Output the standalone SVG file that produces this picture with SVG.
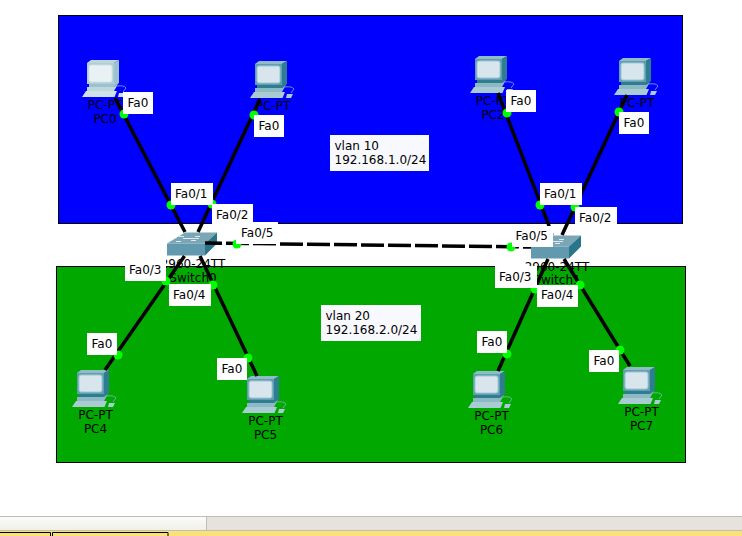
<svg xmlns="http://www.w3.org/2000/svg" xmlns:xlink="http://www.w3.org/1999/xlink" width="742" height="536" viewBox="0 0 742 536">
<style>
text{font-family:"DejaVu Sans",sans-serif;font-size:12px;fill:#000}
.m{text-anchor:middle}
.lnk{stroke:#000;stroke-width:3.500;fill:none}
.dash{stroke-dasharray:23 4;stroke-dashoffset:6}
.dot{fill:#00ff00}
.lb{fill:#fff}
.pc{--top:#8fbcc6;--side:#2f7d90;--front:#5e9fb3;--rim:#9fc7d3;--scr:#d8e5ec;--base:#8cb9c4;--key:#a9cbd3;--cord:#7fb7c0}
.pc.faded{--top:#bdd6dc;--side:#9cc3cc;--front:#aecdd6;--rim:#cfe1e6;--scr:#e9f1f4;--base:#bcd7dd;--key:#cfe2e7;--cord:#8fa8f0}
</style>
<defs>
<symbol id="pcicon" overflow="visible" width="40" height="40" viewBox="0 0 40 40">
<path d="M0 3 4 0H32L27 3Z" fill="var(--top)"/>
<path d="M27 3 32 0V21L27 26Z" fill="var(--side)"/>
<rect x="0" y="3" width="27" height="21" fill="var(--front)"/>
<rect x="2" y="5" width="23" height="17" rx="2" fill="var(--scr)" stroke="var(--rim)"/>
<path d="M2 24H27L32 20V23L27 27H2Z" fill="var(--side)"/>
<path d="M0 27H27L31 24 27 31H0Z" fill="var(--base)"/>
<path d="M-1 31H30L27.500 37H-5Z" fill="var(--key)"/>
<path d="M32 33H38L36 37H31Z" fill="var(--key)"/>
<path d="M30 26Q37 25 39 28L36 32" fill="none" stroke="var(--cord)" stroke-width=".8"/>
</symbol>
<symbol id="swicon" overflow="visible" width="50" height="24" viewBox="0 0 50 24">
<path d="M0 11 18 0H50L38 11Z" fill="#7ba6b6"/>
<path d="M38 11 50 0V11L38 23Z" fill="#2a7589"/>
<rect x="0" y="11" width="38" height="12" fill="#6399ae"/>
<path d="M12 4H17M28 4H33M9 9H14M24 8H29M16 6H32" stroke="#dfecef" stroke-width="1.200"/>
</symbol>
</defs>

<rect width="742" height="536" fill="#fff"/>
<rect id="vlan10" x="58.500" y="15.500" width="624" height="208" fill="#0000ff" stroke="#000"/>
<rect id="vlan20" x="56.500" y="266.500" width="629" height="196" fill="#00a800" stroke="#000"/>

<g id="note10"><rect x="330" y="135" width="99" height="36" fill="#f8f8ff"/><text x="334.500" y="150">vlan 10</text><text x="334.500" y="164">192.168.1.0/24</text></g>
<g id="note20"><rect x="321" y="305" width="100" height="36" fill="#f8f8ff"/><text x="325.500" y="320">vlan 20</text><text x="325.500" y="334">192.168.2.0/24</text></g>

<g id="PC0" class="pc faded"><use href="#pcicon" x="87" y="60"/><text class="m" x="105" y="109">PC-PT</text><text class="m" x="105" y="123">PC0</text></g>
<g id="PC1" class="pc"><use href="#pcicon" x="255" y="61"/><text class="m" x="273" y="110">PC-PT</text></g>
<g id="PC2" class="pc"><use href="#pcicon" x="475" y="56"/><text class="m" x="493" y="105">PC-PT</text><text class="m" x="493" y="119">PC2</text></g>
<g id="PC3" class="pc"><use href="#pcicon" x="619" y="58"/><text class="m" x="637" y="107">PC-PT</text></g>
<g id="PC4" class="pc"><use href="#pcicon" x="77" y="370"/><text class="m" x="95.500" y="419">PC-PT</text><text class="m" x="95.500" y="433">PC4</text></g>
<g id="PC5" class="pc"><use href="#pcicon" x="247" y="376"/><text class="m" x="265.500" y="425">PC-PT</text><text class="m" x="265.500" y="439">PC5</text></g>
<g id="PC6" class="pc"><use href="#pcicon" x="473" y="371"/><text class="m" x="491.500" y="420">PC-PT</text><text class="m" x="491.500" y="434">PC6</text></g>
<g id="PC7" class="pc"><use href="#pcicon" x="623" y="367"/><text class="m" x="641.500" y="416">PC-PT</text><text class="m" x="641.500" y="430">PC7</text></g>
<g id="Switch0"><use href="#swicon" x="167" y="232.500"/><text class="m" x="193" y="268">2960-24TT</text><text class="m" x="193" y="282">Switch0</text></g>
<g id="Switch1"><use href="#swicon" x="531" y="235.500"/><text class="m" x="557" y="271">2960-24TT</text><text class="m" x="557" y="284">Switch1</text></g>

<g id="connectors">
<path class="lnk" d="M115 98 185 232"/>
<path class="lnk" d="M260 99 198 232"/>
<path class="lnk" d="M184.500 256 105 370"/>
<path class="lnk" d="M200 256 257 376"/>
<path class="lnk" d="M498 93 548 223 552 235"/>
<path class="lnk" d="M627 95 562 235"/>
<path class="lnk" d="M548 259 498 371"/>
<path class="lnk" d="M564 259 630 366"/>
<path class="lnk dash" d="M205 243 531 247"/>
</g>

<g id="ports">
<circle class="dot" cx="124" cy="114" r="4.500"/><circle class="dot" cx="254" cy="115" r="4.500"/>
<circle class="dot" cx="171" cy="205" r="4.500"/><circle class="dot" cx="212" cy="204" r="4.500"/>
<circle class="dot" cx="237" cy="244" r="4.500"/><circle class="dot" cx="511" cy="247" r="4.500"/>
<circle class="dot" cx="166" cy="281" r="4.500"/><circle class="dot" cx="213" cy="285" r="4.500"/>
<circle class="dot" cx="118" cy="355" r="4.500"/><circle class="dot" cx="248" cy="358" r="4.500"/>
<circle class="dot" cx="507" cy="113" r="4.500"/><circle class="dot" cx="619" cy="112" r="4.500"/>
<circle class="dot" cx="540" cy="205" r="4.500"/><circle class="dot" cx="575" cy="207" r="4.500"/>
<circle class="dot" cx="535" cy="289" r="4.500"/><circle class="dot" cx="580" cy="285" r="4.500"/>
<circle class="dot" cx="507" cy="354" r="4.500"/><circle class="dot" cx="620" cy="350" r="4.500"/>

<rect class="lb" x="123" y="92" width="30" height="22"/><text x="127.500" y="107">Fa0</text>
<rect class="lb" x="254" y="115" width="30" height="22"/><text x="258.500" y="130">Fa0</text>
<rect class="lb" x="506" y="90" width="30" height="22"/><text x="510.500" y="105">Fa0</text>
<rect class="lb" x="619" y="112" width="30" height="22"/><text x="623.500" y="127">Fa0</text>
<rect class="lb" x="87" y="333" width="30" height="22"/><text x="91.500" y="348">Fa0</text>
<rect class="lb" x="217" y="358" width="30" height="22"/><text x="221.500" y="373">Fa0</text>
<rect class="lb" x="477" y="331" width="30" height="22"/><text x="481.500" y="346">Fa0</text>
<rect class="lb" x="589" y="350" width="30" height="22"/><text x="593.500" y="365">Fa0</text>
<rect class="lb" x="171" y="183" width="42" height="22"/><text x="175" y="198">Fa0/1</text>
<rect class="lb" x="212" y="204" width="41" height="22"/><text x="216" y="219">Fa0/2</text>
<rect class="lb" x="236" y="222" width="42" height="22"/><text x="241" y="237">Fa0/5</text>
<rect class="lb" x="125" y="259" width="41" height="22"/><text x="129" y="274">Fa0/3</text>
<rect class="lb" x="169" y="284" width="42" height="22"/><text x="173" y="299">Fa0/4</text>
<rect class="lb" x="540" y="183" width="42" height="22"/><text x="544" y="198">Fa0/1</text>
<rect class="lb" x="575" y="207" width="42" height="22"/><text x="579" y="222">Fa0/2</text>
<rect class="lb" x="512" y="226" width="41" height="21"/><text x="515.500" y="240">Fa0/5</text>
<rect class="lb" x="495" y="266" width="42" height="22"/><text x="499" y="281">Fa0/3</text>
<rect class="lb" x="537" y="285" width="41" height="22"/><text x="541" y="299">Fa0/4</text>
</g>

<g id="chrome">
<linearGradient id="bar" x1="0" y1="0" x2="0" y2="1"><stop offset="0" stop-color="#fbfbf9"/><stop offset="1" stop-color="#efeeea"/></linearGradient>
<rect x="0" y="517" width="742" height="14" fill="#e6e3df"/>
<rect x="0" y="517" width="206" height="14" fill="url(#bar)"/>
<path d="M0 516.500H742M206.500 517V531M0 530.500H742" stroke="#c0bdb8" fill="none"/>
<rect x="0" y="531" width="742" height="5" fill="#fbe17a"/>
<path d="M0 532.500H50.500V536M52.500 536V532.500H168V536" fill="none" stroke="#000"/>
</g>
</svg>
